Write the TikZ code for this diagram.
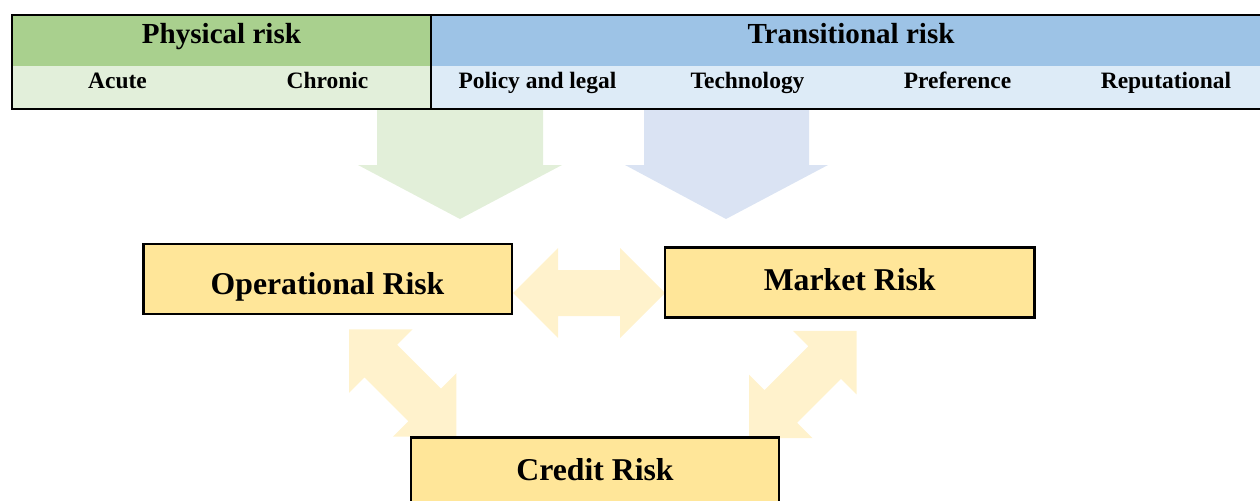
\documentclass[tikz,border=0pt]{standalone}
\usepackage{fontspec}
\setmainfont{Liberation Serif}
\definecolor{physdark}{HTML}{A9D08E}
\definecolor{physlight}{HTML}{E2EFDA}
\definecolor{transdark}{HTML}{9DC3E6}
\definecolor{translight}{HTML}{DDEBF7}
\definecolor{greenflow}{HTML}{E2EFD9}
\definecolor{blueflow}{HTML}{DAE3F3}
\definecolor{riskfill}{HTML}{FFE699}
\definecolor{linkfill}{HTML}{FFF2CC}
\tikzset{
  headtxt/.style={anchor=base, font=\fontsize{21.8}{24}\selectfont\bfseries, inner sep=0pt},
  subtxt/.style={anchor=base, font=\fontsize{17.6}{20}\selectfont\bfseries, inner sep=0pt},
  riskbox/.style={draw=black, line width=1.8pt, fill=riskfill, inner sep=0pt,
    minimum height=52.5pt, text depth=0pt,
    font=\fontsize{23.8}{26}\selectfont\bfseries},
  pics/fatdouble/.style={code={
    \fill[linkfill] (-76,0) -- (-31,-45) -- (-31,-23) -- (31,-23) -- (31,-45)
      -- (76,0) -- (31,45) -- (31,23) -- (-31,23) -- (-31,45) -- cycle;
  }}
}
\begin{document}
\begin{tikzpicture}[x=0.75pt, y=-0.75pt]
\useasboundingbox (0,0) rectangle (1260,500);
\clip (0,0) rectangle (1260,500);

% downward flows from the two risk families
\fill[greenflow] (377,109) -- (543,109) -- (543,165) -- (562,165) -- (460,219)
  -- (358,165) -- (377,165) -- cycle;
\fill[blueflow] (644,109) -- (809,109) -- (809,165) -- (828,165) -- (726,219)
  -- (625,165) -- (644,165) -- cycle;

% two-way links between the financial risks
\coordinate (linkOM) at (589,293);
\coordinate (linkOC) at (402.75,383);
\coordinate (linkMC) at (802.75,384.5);
\pic at (linkOM) {fatdouble};
\pic[rotate=-45] at (linkOC) {fatdouble};
\pic[rotate=45] at (linkMC) {fatdouble};

% header table
\fill[physdark] (11.7,15) rectangle (431,65.7);
\fill[physlight] (11.7,65.7) rectangle (431,109.3);
\fill[transdark] (431,15) rectangle (1280,65.7);
\fill[translight] (431,65.7) rectangle (1280,109.3);
\draw[line width=1.7pt] (11.7,15) rectangle (1280,109.3);
\draw[line width=1.7pt] (431,15) -- (431,109.3);

\node[headtxt] (phys) at (221.5,43.3) {Physical risk};
\node[headtxt] (trans) at (851,43.3) {Transitional risk};
\node[subtxt] (acute) at (117.5,88.3) {Acute};
\node[subtxt] (chronic) at (327.5,88.3) {Chronic};
\node[subtxt] (policy) at (537.5,88.3) {Policy and legal};
\node[subtxt] (tech) at (747.5,88.3) {Technology};
\node[subtxt] (pref) at (957.5,88.3) {Preference};
\node[subtxt] (repu) at (1166,88.3) {Reputational};

% financial risk boxes
\node[riskbox, minimum width=276.3pt, text height=23pt] (opr) at (327.5,279) {Operational Risk};
\node[riskbox, minimum width=277pt, text height=11.55pt] (mkt) at (849.7,282.3) {Market Risk};
\node[riskbox, minimum width=276pt, text height=11.25pt] (crd) at (595,472.5) {Credit Risk};
\end{tikzpicture}
\end{document}
